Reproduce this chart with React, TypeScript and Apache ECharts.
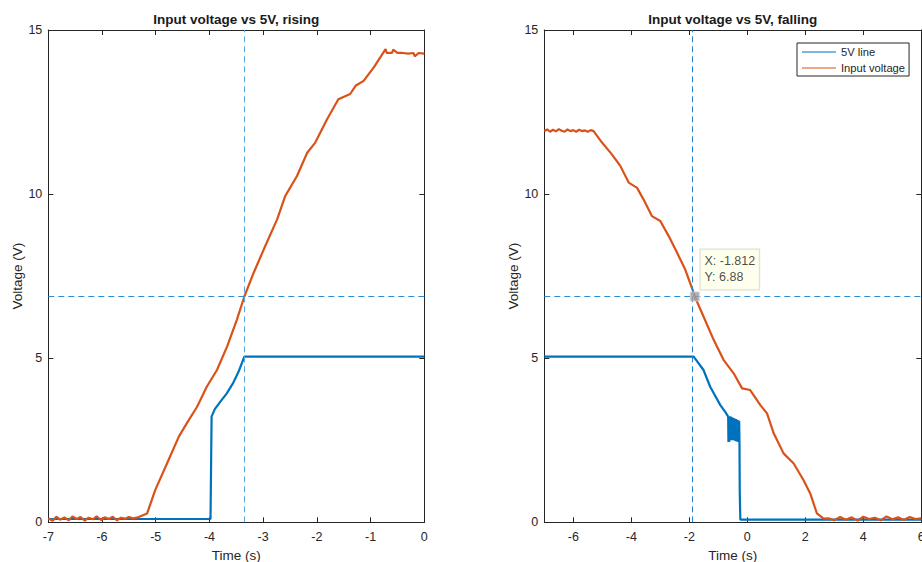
import React, { useEffect, useRef } from "react";
import * as echarts from "echarts";

const FONT = '"Liberation Sans", Arial, Helvetica, sans-serif';
const BLUE = "#0072BD";
const ORANGE = "#D95319";
const AXIS = "#262626";

// ---- Rising (left) ----
const risingInputT = [
  -7.0, -6.92, -6.85, -6.78, -6.7, -6.62, -6.55, -6.47, -6.4, -6.32, -6.25, -6.17, -6.1, -6.02, -5.95,
  -5.87, -5.8, -5.72, -5.65, -5.57, -5.5, -5.42, -5.35, -5.16, -5.01, -4.79, -4.57, -4.42, -4.23, -4.05,
  -3.86, -3.67, -3.49, -3.35, -3.18, -2.99, -2.74, -2.59, -2.37, -2.18, -2.03, -1.81, -1.6, -1.38, -1.28,
  -1.13, -0.94, -0.76, -0.72, -0.7, -0.6, -0.58, -0.5, -0.4, -0.3, -0.2, -0.18, -0.1, 0,
];
const risingInputV = [
  0.12, 0.05, 0.17, 0.08, 0.15, 0.06, 0.18, 0.1, 0.16, 0.05, 0.14, 0.09, 0.18, 0.07, 0.15,
  0.1, 0.17, 0.06, 0.14, 0.11, 0.16, 0.12, 0.14, 0.27, 0.98, 1.79, 2.61, 3.02, 3.52, 4.13,
  4.64, 5.36, 6.17, 6.88, 7.59, 8.31, 9.23, 9.94, 10.55, 11.26, 11.57, 12.28, 12.89, 13.05, 13.3,
  13.45, 13.86, 14.32, 14.42, 14.3, 14.3, 14.4, 14.3, 14.3, 14.28, 14.3, 14.2, 14.3, 14.28,
];
const risingLineT = [-7, -3.98, -3.96, -3.9, -3.8, -3.68, -3.56, -3.45, -3.35, 0];
const risingLineV = [0.1, 0.1, 3.22, 3.45, 3.67, 3.92, 4.24, 4.62, 5.05, 5.05];
const risingCrossX = -3.35;
const risingCrossY = 6.88;

// ---- Falling (right) ----
const fallingInputT = [
  -7, -6.9, -6.8, -6.7, -6.6, -6.5, -6.4, -6.3, -6.2, -6.1, -6.0, -5.9, -5.8, -5.7, -5.6, -5.5, -5.4, -5.3,
  -5.01, -4.67, -4.38, -4.09, -3.8, -3.58, -3.29, -3.0, -2.71, -2.42, -2.14, -1.87, -1.812, -1.51, -1.16,
  -0.82, -0.47, -0.18, 0.1, 0.45, 0.68, 0.91, 1.25, 1.6, 1.94, 2.17, 2.4, 2.63,
  2.8, 3.0, 3.2, 3.4, 3.6, 3.8, 4.0, 4.2, 4.4, 4.6, 4.8, 5.0, 5.2, 5.4, 5.6, 5.8, 6.0,
];
const fallingInputV = [
  11.92, 11.97, 11.9, 11.96, 11.91, 11.98, 11.93, 11.9, 11.97, 11.92, 11.95, 11.9, 11.96, 11.92, 11.94, 11.9, 11.95, 11.92,
  11.57, 11.21, 10.86, 10.35, 10.19, 9.84, 9.33, 9.18, 8.72, 8.21, 7.7, 7.04, 6.88, 6.27, 5.56,
  4.95, 4.54, 4.08, 4.03, 3.57, 3.32, 2.71, 2.1, 1.79, 1.28, 0.88, 0.27, 0.11,
  0.12, 0.06, 0.16, 0.08, 0.15, 0.05, 0.17, 0.1, 0.14, 0.06, 0.18, 0.09, 0.15, 0.07, 0.16, 0.1, 0.12,
];
const fallingLineT = [
  -7, -1.85, -1.51, -1.28, -0.93, -0.75, -0.66, -0.65, -0.64, -0.62, -0.61, -0.56, -0.55, -0.54, -0.53,
  -0.52, -0.51, -0.5, -0.49, -0.48, -0.47, -0.46, -0.45, -0.44, -0.43, -0.42, -0.41, -0.4, -0.39, -0.38,
  -0.37, -0.36, -0.35, -0.34, -0.33, -0.32, -0.31, -0.3, -0.29, -0.28, -0.27, -0.26, -0.24, 6,
];
const fallingLineV = [
  5.05, 5.05, 4.64, 4.13, 3.57, 3.35, 3.22, 2.45, 3.22, 2.45, 3.2, 3.2, 2.5, 3.2, 2.5,
  3.2, 2.5, 3.18, 2.5, 3.18, 2.5, 3.16, 2.5, 3.16, 2.5, 3.15, 2.48, 3.15, 2.48, 3.14,
  2.46, 3.12, 2.46, 3.12, 2.46, 3.1, 2.45, 3.1, 2.45, 3.08, 2.45, 0.9, 0.08, 0.08,
];
const fallingCrossX = -1.9;
const fallingCrossY = 6.88;
const tipX = -1.812;
const tipY = 6.88;

const xTicksLeft = [-7, -6, -5, -4, -3, -2, -1, 0];
const xTicksRight = [-6, -4, -2, 0, 2, 4, 6];

const zip = (t: number[], v: number[]) => t.map((x, i) => [x, v[i]]);

function axisBase(extra: any) {
  return {
    type: "value",
    axisLine: { show: true, onZero: false, lineStyle: { color: AXIS, width: 1 } },
    axisTick: { show: true, inside: true, length: 5, lineStyle: { color: AXIS } },
    splitLine: { show: false },
    axisLabel: { color: AXIS, fontSize: 12.5, fontFamily: FONT },
    nameTextStyle: { color: AXIS, fontSize: 13.5, fontFamily: FONT },
    ...extra,
  };
}

export default function App() {
  const ref = useRef<HTMLDivElement>(null);
  useEffect(() => {
    if (!ref.current) return;
    const chart = echarts.init(ref.current, undefined, { renderer: "svg" });
    const lineSeries = (name: string, color: string, data: number[][], idx: number, extra: any = {}) => ({
      name,
      type: "line",
      xAxisIndex: idx,
      yAxisIndex: idx,
      data,
      symbol: "none",
      showSymbol: false,
      smooth: false,
      lineStyle: { color, width: 2.2 },
      itemStyle: { color },
      ...extra,
    });
    const cross = (x: number, y: number, cx: string, cy: string) => ({
      silent: true,
      symbol: ["none", "none"],
      label: { show: false },
      animation: false,
      lineStyle: { color: cy, type: [6, 4], width: 1 },
      emphasis: { disabled: true },
      data: [
        { xAxis: x, lineStyle: { color: cx, type: [6, 4], width: 1 } },
        { yAxis: y, lineStyle: { color: cy, type: [6, 4], width: 1 } },
      ],
    });
    const option: any = {
      animation: false,
      backgroundColor: "#ffffff",
      textStyle: { fontFamily: FONT },
      title: [
        {
          text: "Input voltage vs 5V, rising",
          left: 236.3,
          top: 12,
          padding: 0,
          textAlign: "center",
          textStyle: { fontSize: 13.5, fontWeight: "bold", color: "#1a1a1a", fontFamily: FONT },
        },
        {
          text: "Input voltage vs 5V, falling",
          left: 732.8,
          top: 12,
          padding: 0,
          textAlign: "center",
          textStyle: { fontSize: 13.5, fontWeight: "bold", color: "#1a1a1a", fontFamily: FONT },
        },
      ],
      legend: {
        data: ["5V line", "Input voltage"],
        orient: "vertical",
        left: 797,
        top: 43,
        borderColor: AXIS,
        borderWidth: 1,
        backgroundColor: "#ffffff",
        padding: [2, 4, 1, 5],
        icon: "rect",
        itemWidth: 34,
        itemHeight: 1,
        itemGap: 2,
        selectedMode: false,
        textStyle: { fontSize: 11.2, color: AXIS, fontFamily: FONT, lineHeight: 14 },
      },
      grid: [
        { left: 48.3, top: 30, width: 376, height: 492.3, show: false, outerBoundsMode: "none", containLabel: false },
        { left: 544.3, top: 30, width: 377, height: 492.3, show: false, outerBoundsMode: "none", containLabel: false },
      ],
      xAxis: [
        axisBase({
          gridIndex: 0, position: "bottom", min: -7, max: 0, interval: 1,
          name: "Time (s)", nameLocation: "middle", nameGap: 22,
          axisLabel: { color: AXIS, fontSize: 12.5, fontFamily: FONT, margin: 8, customValues: xTicksLeft },
        }),
        axisBase({
          gridIndex: 1, position: "bottom", min: -7, max: 6,
          name: "Time (s)", nameLocation: "middle", nameGap: 22,
          axisTick: { show: true, inside: true, length: 5, lineStyle: { color: AXIS }, customValues: xTicksRight },
          axisLabel: { color: AXIS, fontSize: 12.5, fontFamily: FONT, margin: 8, customValues: xTicksRight },
        }),
        axisBase({ gridIndex: 0, position: "top", min: -7, max: 0, interval: 1, axisLabel: { show: false } }),
        axisBase({
          gridIndex: 1, position: "top", min: -7, max: 6, axisLabel: { show: false },
          axisTick: { show: true, inside: true, length: 5, lineStyle: { color: AXIS }, customValues: xTicksRight },
        }),
      ],
      yAxis: [
        axisBase({
          gridIndex: 0, position: "left", min: 0, max: 15, interval: 5,
          name: "Voltage (V)", nameLocation: "middle", nameGap: 22,
          axisLabel: { color: AXIS, fontSize: 12.5, fontFamily: FONT, margin: 6 },
        }),
        axisBase({
          gridIndex: 1, position: "left", min: 0, max: 15, interval: 5,
          name: "Voltage (V)", nameLocation: "middle", nameGap: 22,
          axisLabel: { color: AXIS, fontSize: 12.5, fontFamily: FONT, margin: 6 },
        }),
        axisBase({ gridIndex: 0, position: "right", min: 0, max: 15, interval: 5, axisLabel: { show: false } }),
        axisBase({ gridIndex: 1, position: "right", min: 0, max: 15, interval: 5, axisLabel: { show: false } }),
      ],
      series: [
        lineSeries("5V line", BLUE, zip(risingLineT, risingLineV), 0),
        lineSeries("Input voltage", ORANGE, zip(risingInputT, risingInputV), 0, {
          markLine: cross(risingCrossX, risingCrossY, "#4fa9e2", "#2b8dd6"),
        }),
        lineSeries("5V line", BLUE, zip(fallingLineT, fallingLineV), 1),
        lineSeries("Input voltage", ORANGE, zip(fallingInputT, fallingInputV), 1, {
          markLine: cross(fallingCrossX, fallingCrossY, "#1f82d2", "#2b8dd6"),
        }),
        {
          name: "tip",
          type: "scatter",
          xAxisIndex: 1,
          yAxisIndex: 1,
          data: [[tipX, tipY]],
          symbol: "rect",
          symbolSize: 9,
          z: 10,
          itemStyle: { color: "#9e9e9e", borderColor: "#d0d0d0", borderWidth: 1 },
          label: {
            show: true,
            position: [10.7, -42],
            align: "left",
            verticalAlign: "top",
            formatter: "X: " + tipX + "\nY: " + tipY,
            backgroundColor: "#ffffe8",
            borderColor: "#d4d4c8",
            borderWidth: 1,
            padding: [4, 4, 4, 4],
            lineHeight: 16,
            fontSize: 12.5,
            color: "#1a1a1a",
            fontFamily: FONT,
          },
        },
      ],
    };
    chart.setOption(option);
    return () => chart.dispose();
  }, []);
  return (
    <div
      ref={ref}
      style={{ position: "absolute", left: 0, top: 0, width: 922, height: 562, background: "#fff" }}
    />
  );
}
